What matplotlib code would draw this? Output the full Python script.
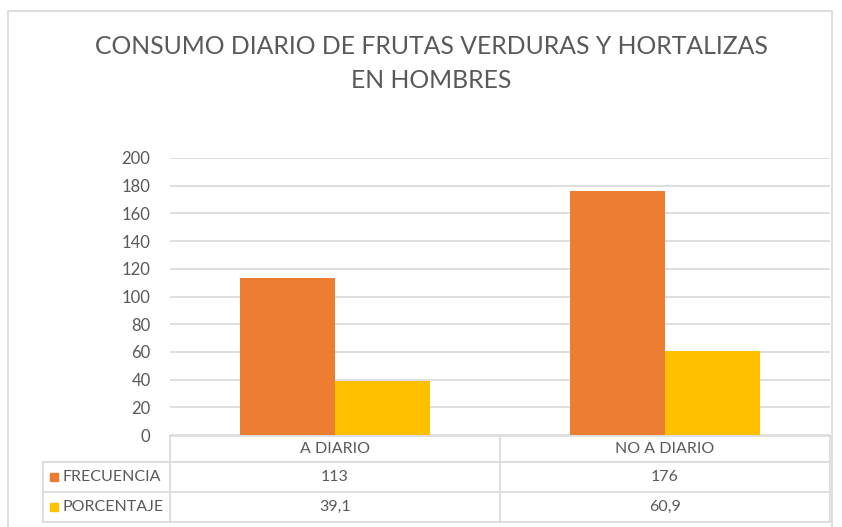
import matplotlib
matplotlib.use("Agg")
import matplotlib.pyplot as plt
from matplotlib.patches import Rectangle
import numpy as np

categorias = ["A DIARIO", "NO A DIARIO"]
series = ["FRECUENCIA", "PORCENTAJE"]
frecuencia = [113, 176]
porcentaje = [39.1, 60.9]
etiquetas_frec = ["113", "176"]
etiquetas_porc = ["39,1", "60,9"]
colores = ["#ED7D31", "#FFC000"]

plt.rcParams['font.family'] = ['Lato', 'DejaVu Sans']
gris = "#595959"
linea = "#d9d9d9"

W, H = 842, 527
fig = plt.figure(figsize=(W / 100, H / 100), dpi=100)

# borde del grafico
fig.patches.append(Rectangle((8 / W, -0.1), (832 - 8) / W, 1.1 - 11 / H,
                             transform=fig.transFigure, fill=False,
                             edgecolor=linea, lw=1.2))

# titulo
fig.text(431 / W, 1 - 46 / H, "CONSUMO DIARIO DE FRUTAS VERDURAS Y HORTALIZAS",
         ha="center", va="center", fontsize=17.8, color=gris)
fig.text(431 / W, 1 - 80 / H, "EN HOMBRES",
         ha="center", va="center", fontsize=17.8, color=gris)

# area de barras
x0, x1 = 170, 830
ytop, ybot = 158, 435
ax = fig.add_axes([x0 / W, 1 - ybot / H, (x1 - x0) / W, (ybot - ytop) / H])
x = np.arange(len(categorias))
ancho = 95 / 330
ax.bar(x - ancho / 2, frecuencia, ancho, color=colores[0], zorder=3)
ax.bar(x + ancho / 2, porcentaje, ancho, color=colores[1], zorder=3)
ax.set_xlim(-0.5, len(categorias) - 0.5)
ax.set_ylim(0, 200)
ax.set_yticks(range(0, 201, 20))
ax.set_xticks([])
ax.yaxis.grid(True, color=linea, lw=1.2, zorder=0)
ax.tick_params(axis="y", length=0, pad=14, labelsize=12, labelcolor=gris)
for s in ax.spines.values():
    s.set_visible(False)

# tabla de datos
tb_top, tb_h1, tb_r1, tb_bot = 436, 462, 492, 522
tax = fig.add_axes([x0 / W, 1 - tb_bot / H, (x1 - x0) / W, (tb_bot - tb_top) / H])
tax.set_xlim(-0.5, len(categorias) - 0.5)
tax.set_ylim(tb_bot, tb_top)
tax.axis("off")
px = (len(categorias)) / (x1 - x0)  # unidades de datos por pixel
xl = -0.5 - (x0 - 43) * px
kw = dict(color=linea, lw=1.2, clip_on=False)
tax.plot([-0.5, len(categorias) - 0.5], [tb_top, tb_top], **kw)
for yy in [tb_h1, tb_r1, tb_bot]:
    tax.plot([xl, len(categorias) - 0.5], [yy, yy], **kw)
for i in range(len(categorias) + 1):
    tax.plot([i - 0.5, i - 0.5], [tb_top, tb_bot], **kw)
tax.plot([xl, xl], [tb_h1, tb_bot], **kw)

fs = 11.5
for i, c in enumerate(categorias):
    tax.text(i, (tb_top + tb_h1) / 2, c, ha="center", va="center", fontsize=fs, color=gris)
    tax.text(i, (tb_h1 + tb_r1) / 2, etiquetas_frec[i], ha="center", va="center", fontsize=fs, color=gris)
    tax.text(i, (tb_r1 + tb_bot) / 2, etiquetas_porc[i], ha="center", va="center", fontsize=fs, color=gris)

filas = [(tb_h1 + tb_r1) / 2, (tb_r1 + tb_bot) / 2]
for k, nombre in enumerate(series):
    tax.plot([xl + 10.5 * px], [filas[k]], marker="s", ms=6, color=colores[k], clip_on=False)
    tax.text(xl + 19 * px, filas[k], nombre, ha="left", va="center", fontsize=fs, color=gris)

fig.savefig("out.png", dpi=100)
